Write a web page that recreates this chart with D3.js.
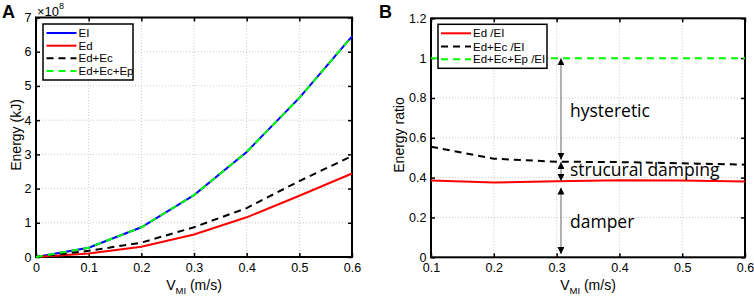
<!DOCTYPE html>
<html>
<head>
<meta charset="utf-8">
<script src="https://cdn.jsdelivr.net/npm/d3@7"></script>
<style>
  body { margin: 0; background: #fff; }
  text { font-family: "Liberation Sans", Arial, sans-serif; }
</style>
</head>
<body>
<script>
// panel A data (energy, x1e8 kJ)
var vA = [0, 0.1, 0.2, 0.3, 0.4, 0.5, 0.6];
var EI = [0, 0.27, 0.87, 1.81, 3.07, 4.65, 6.45];
var Ed = [0, 0.10, 0.30, 0.66, 1.16, 1.79, 2.44];
var EdEc = [0, 0.18, 0.42, 0.87, 1.43, 2.22, 2.95];
var EdEcEp = [0, 0.27, 0.87, 1.81, 3.07, 4.65, 6.45];
var yTicksA = [0, 1, 2, 3, 4, 5, 6, 7];
var xTicksA = [0, 0.1, 0.2, 0.3, 0.4, 0.5, 0.6];

// panel B data (ratios)
var vB = [0.1, 0.2, 0.3, 0.4, 0.5, 0.6];
var rEd = [0.385, 0.375, 0.382, 0.387, 0.385, 0.38];
var rEdEc = [0.555, 0.495, 0.48, 0.478, 0.472, 0.465];
var rAll = [1, 1, 1, 1, 1, 1];
var yTicksB = [0, 0.2, 0.4, 0.6, 0.8, 1, 1.2];
var xTicksB = [0.1, 0.2, 0.3, 0.4, 0.5, 0.6];

var W = 754, H = 299;
var svg = d3.select("body").append("svg").attr("width", W).attr("height", H);

var defs = svg.append("defs");
defs.append("marker").attr("id", "ah")
  .attr("viewBox", "0 0 10 10").attr("refX", 10).attr("refY", 5)
  .attr("markerWidth", 7).attr("markerHeight", 7).attr("markerUnits", "userSpaceOnUse")
  .attr("orient", "auto-start-reverse")
  .append("path").attr("d", "M0,0 L10,5 L0,10 z").attr("fill", "#000");

function panel(opt) {
  var x = d3.scaleLinear().domain(opt.xd).range(opt.xr);
  var y = d3.scaleLinear().domain(opt.yd).range(opt.yr);
  var g = svg.append("g");

  // grid
  g.selectAll(".gx").data(opt.xt.slice(1, -1)).enter().append("line")
    .attr("x1", d => x(d)).attr("x2", d => x(d))
    .attr("y1", opt.yr[0]).attr("y2", opt.yr[1])
    .attr("stroke", "#c8c8c8").attr("stroke-dasharray", "1,2");
  g.selectAll(".gy").data(opt.yt.slice(1, -1)).enter().append("line")
    .attr("y1", d => y(d)).attr("y2", d => y(d))
    .attr("x1", opt.xr[0]).attr("x2", opt.xr[1])
    .attr("stroke", "#c8c8c8").attr("stroke-dasharray", "1,2");

  // axes (ticks inward, box)
  g.append("g").attr("transform", "translate(0," + opt.yr[0] + ")")
    .call(d3.axisBottom(x).tickValues(opt.xt).tickSize(-4).tickPadding(6).tickFormat(opt.xf));
  g.append("g").attr("transform", "translate(" + opt.xr[0] + ",0)")
    .call(d3.axisLeft(y).tickValues(opt.yt).tickSize(-4).tickPadding(4.5).tickFormat(opt.yf));
  g.append("g").attr("transform", "translate(0," + opt.yr[1] + ")")
    .call(d3.axisTop(x).tickValues(opt.xt).tickSize(-4).tickFormat(""));
  g.append("g").attr("transform", "translate(" + opt.xr[1] + ",0)")
    .call(d3.axisRight(y).tickValues(opt.yt).tickSize(-4).tickFormat(""));
  g.selectAll(".domain").remove();
  g.selectAll(".tick line").attr("stroke", "#000").attr("stroke-width", 1.5);
  g.selectAll(".tick text").attr("font-size", 12.5).attr("fill", "#000")
    .style("font-family", '"Liberation Sans", Arial, sans-serif');
  g.append("rect").attr("x", opt.xr[0]).attr("y", opt.yr[1])
    .attr("width", opt.xr[1] - opt.xr[0]).attr("height", opt.yr[0] - opt.yr[1])
    .attr("fill", "none").attr("stroke", "#000").attr("stroke-width", 2);

  var line = d3.line().x((d, i) => x(opt.xs[i])).y(d => y(d));
  opt.series.forEach(function(s) {
    g.append("path").datum(s.v).attr("d", line).attr("fill", "none")
      .attr("stroke", s.c).attr("stroke-width", 2)
      .attr("stroke-dasharray", s.dash || null);
  });
  return {x: x, y: y, g: g};
}

function legend(g, x0, y0, w, h, items, sx, rows) {
  g.append("rect").attr("x", x0).attr("y", y0).attr("width", w).attr("height", h)
    .attr("fill", "#fff").attr("stroke", "#000").attr("stroke-width", 1.5);
  items.forEach(function(it, i) {
    g.append("line").attr("x1", sx).attr("x2", sx + 30).attr("y1", rows[i]).attr("y2", rows[i])
      .attr("stroke", it.c).attr("stroke-width", 2).attr("stroke-dasharray", it.dash || null);
    g.append("text").attr("x", sx + 32).attr("y", rows[i]).attr("dy", "0.35em")
      .attr("font-size", 11.5).text(it.t);
  });
}

// ---- Panel A
var A = panel({
  xd: [0, 0.6], xr: [36, 352], yd: [0, 7], yr: [257, 17.5],
  xt: xTicksA, yt: yTicksA, xs: vA,
  xf: d => d === 0 ? "0" : d3.format(".1f")(d), yf: d3.format("d"),
  series: [
    {v: EI, c: "#0000ff"},
    {v: Ed, c: "#ff0000"},
    {v: EdEc, c: "#000", dash: "7,5"},
    {v: EdEcEp, c: "#00ff00", dash: "7,5"}
  ]
});
legend(A.g, 43, 24, 90, 56, [
  {t: "EI", c: "#0000ff"}, {t: "Ed", c: "#ff0000"},
  {t: "Ed+Ec", c: "#000", dash: "7,5"}, {t: "Ed+Ec+Ep", c: "#00ff00", dash: "7,5"}
], 46.5, [33, 45.7, 58.3, 71]);

svg.append("text").attr("x", 2).attr("y", 18).attr("font-size", 18).attr("font-weight", "bold").text("A");
var mul = svg.append("text").attr("x", 37).attr("y", 15.5).attr("font-size", 13);
mul.append("tspan").text("×10");
mul.append("tspan").attr("font-size", 9).attr("dy", -7).text("8");
svg.append("text").attr("transform", "translate(21,135) rotate(-90)")
  .attr("text-anchor", "middle").attr("font-size", 14).text("Energy (kJ)");
function xlabel(cx) {
  var t = svg.append("text").attr("x", cx).attr("y", 290).attr("text-anchor", "middle").attr("font-size", 14);
  t.append("tspan").text("V");
  t.append("tspan").attr("font-size", 9.5).attr("dy", 4).text("MI");
  t.append("tspan").attr("dy", -4).text(" (m/s)");
}
xlabel(194);

// ---- Panel B
var B = panel({
  xd: [0.1, 0.6], xr: [431, 745], yd: [0, 1.2], yr: [257.3, 18.3],
  xt: xTicksB, yt: yTicksB, xs: vB,
  xf: d3.format(".1f"), yf: d => (d === 0 || d === 1) ? String(d) : d3.format(".1f")(d),
  series: [
    {v: rEd, c: "#ff0000"},
    {v: rEdEc, c: "#000", dash: "7,5"},
    {v: rAll, c: "#00ff00", dash: "7,5"}
  ]
});
legend(B.g, 438, 24.3, 109, 44, [
  {t: "Ed /EI", c: "#ff0000"}, {t: "Ed+Ec /EI", c: "#000", dash: "7,5"},
  {t: "Ed+Ec+Ep /EI", c: "#00ff00", dash: "7,5"}
], 441, [33.3, 46.5, 59.3]);

// annotation arrows
var ax0 = B.x(0.307);
var arrows = [[1, 0.49], [0.478, 0.383], [0.35, 0.016]];
arrows.forEach(function(a) {
  B.g.append("line").attr("x1", ax0).attr("x2", ax0)
    .attr("y1", B.y(a[0])).attr("y2", B.y(a[1]))
    .attr("stroke", "#888").attr("stroke-width", 1.3)
    .attr("marker-start", "url(#ah)").attr("marker-end", "url(#ah)");
});
var ann = [["hysteretic", 0.737], ["strucural damping", 0.439], ["damper", 0.179]];
ann.forEach(function(a) {
  B.g.append("text").attr("x", 570).attr("y", B.y(a[1])).attr("dy", "0.35em")
    .attr("font-size", 17.5).style("font-family", '"Open Sans", sans-serif').text(a[0]);
});

svg.append("text").attr("x", 379).attr("y", 18).attr("font-size", 18).attr("font-weight", "bold").text("B");
svg.append("text").attr("transform", "translate(404,135) rotate(-90)")
  .attr("text-anchor", "middle").attr("font-size", 14).text("Energy ratio");
xlabel(588);
</script>
</body>
</html>
